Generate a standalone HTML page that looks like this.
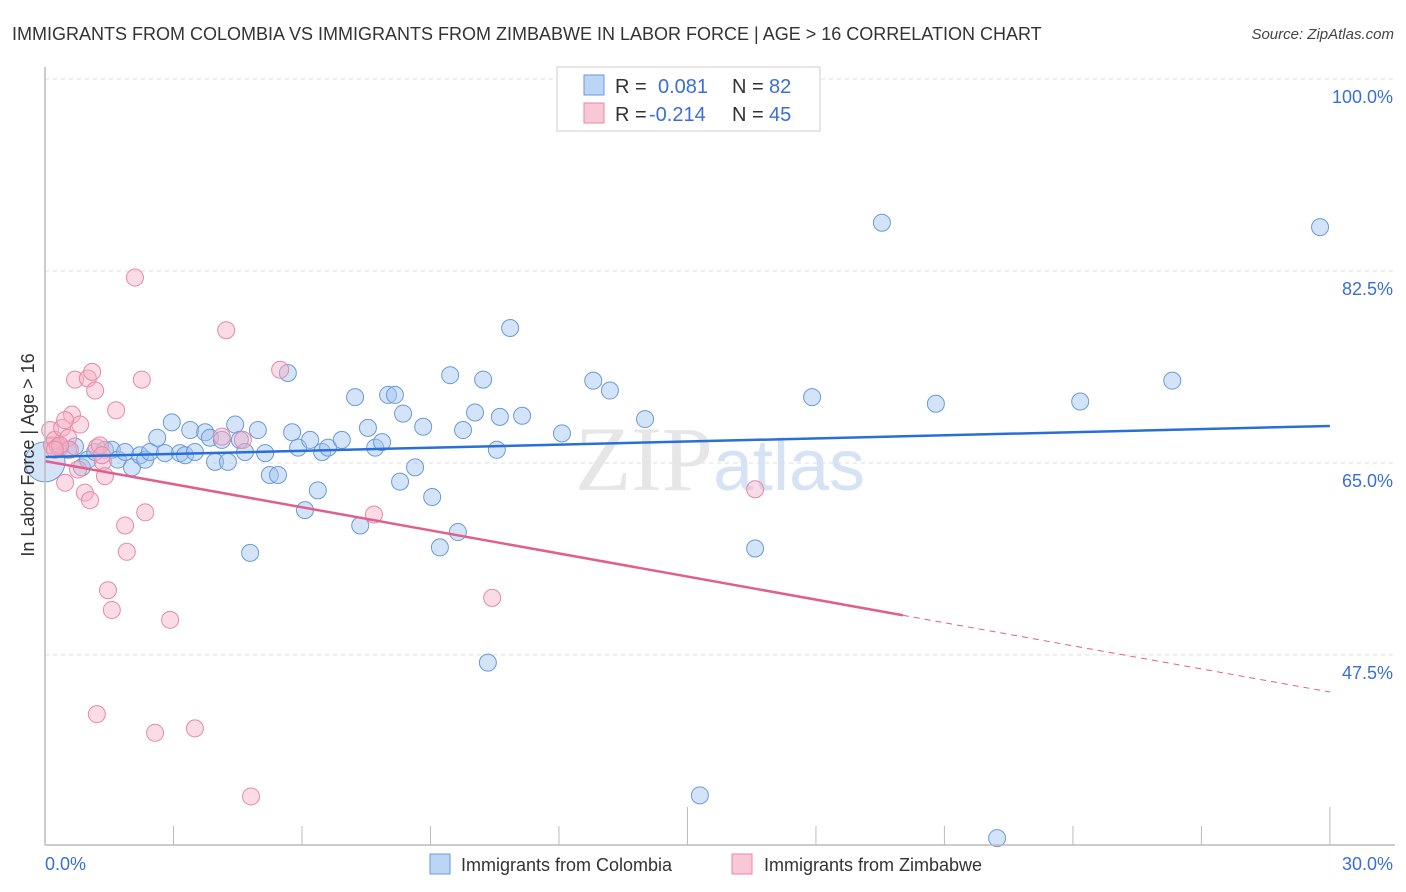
<!DOCTYPE html>
<html><head><meta charset="utf-8"><style>
body{margin:0;background:#fff;font-family:"Liberation Sans",sans-serif;}
svg{display:block}
</style></head><body>
<svg id="chart" width="1406" height="892" xmlns="http://www.w3.org/2000/svg" font-family="Liberation Sans, sans-serif">
<text x="12" y="40" font-size="18" fill="#333">IMMIGRANTS FROM COLOMBIA VS IMMIGRANTS FROM ZIMBABWE IN LABOR FORCE | AGE &gt; 16 CORRELATION CHART</text>
<text x="1394" y="39" font-size="15" fill="#444" font-style="italic" text-anchor="end">Source: ZipAtlas.com</text>
<g id="grid"></g>
<text x="720" y="490" font-size="92" text-anchor="middle" fill="#e6e6e6"><tspan font-family="Liberation Serif, serif">ZIP</tspan><tspan fill="#d6e3f5" font-size="72">atlas</tspan></text>
<g id="points"></g>
<g id="lines"></g>
<line x1="45" y1="67" x2="45" y2="845" stroke="#bbb" stroke-width="1.5"/>
<line x1="45" y1="845" x2="1395" y2="845" stroke="#bbb" stroke-width="1.5"/>
<g id="xticks"></g>
<text transform="translate(34,455) rotate(-90)" font-size="18" fill="#333" text-anchor="middle">In Labor Force | Age &gt; 16</text>
<text x="45" y="870" font-size="18" fill="#3a6fd8">0.0%</text>
<text x="1393" y="870" font-size="18" fill="#3a6fd8" text-anchor="end">30.0%</text>
<g>
<rect x="430" y="854" width="20" height="20" fill="#bcd5f5" stroke="#6a9ad8"/>
<text x="461" y="871" font-size="18" fill="#333">Immigrants from Colombia</text>
<rect x="732" y="854" width="20" height="20" fill="#f9c8d6" stroke="#e58aa6"/>
<text x="764" y="871" font-size="18" fill="#333">Immigrants from Zimbabwe</text>
</g>
<g>
<rect x="557" y="67" width="263" height="64" fill="#fff" stroke="#ccc"/>
<rect x="584" y="75" width="20" height="20" fill="#bcd5f5" stroke="#6a9ad8"/>
<rect x="584" y="103" width="20" height="20" fill="#f9c8d6" stroke="#e58aa6"/>
<text x="615" y="93" font-size="20" fill="#333">R =</text><text x="658" y="93" font-size="20" fill="#3a6fd8">0.081</text>
<text x="732" y="93" font-size="20" fill="#333">N =</text><text x="769" y="93" font-size="20" fill="#3a6fd8">82</text>
<text x="615" y="121" font-size="20" fill="#333">R =</text><text x="649" y="121" font-size="20" fill="#3a6fd8">-0.214</text>
<text x="732" y="121" font-size="20" fill="#333">N =</text><text x="769" y="121" font-size="20" fill="#3a6fd8">45</text>
</g>
</svg>
<script>
const colX=[0,0.35,0.54,0.70,0.86,1.00,1.17,1.40,1.56,1.70,1.87,2.03,2.22,2.34,2.45,2.62,2.80,2.96,3.15,3.27,3.39,3.50,3.74,3.85,3.97,4.13,4.27,4.44,4.55,4.67,4.79,4.97,5.14,5.25,5.44,5.67,5.77,5.91,6.07,6.19,6.37,6.47,6.61,6.93,7.24,7.36,7.54,7.71,7.87,8.01,8.17,8.29,8.36,8.64,8.83,9.04,9.22,9.46,9.64,9.76,10.04,10.23,10.34,10.55,10.62,10.86,11.14,12.07,12.80,13.19,14.01,15.29,16.58,17.91,19.54,20.80,22.23,24.17,26.32,29.77];
const colY=[65.1,66.4,66.2,66.5,64.6,65.3,66.0,66.2,66.2,65.3,66.0,64.6,65.7,65.3,66.0,67.3,65.9,68.7,65.9,65.7,68.0,66.0,67.8,67.3,65.1,67.1,65.1,68.5,67.1,66.0,56.8,68.0,65.9,63.9,63.9,73.2,67.8,66.4,60.7,67.1,62.5,66.0,66.4,67.1,71.0,59.3,68.2,66.4,66.9,71.2,71.2,63.3,69.5,64.6,68.3,61.9,57.3,73.0,58.7,68.0,69.6,72.6,46.8,66.2,69.2,77.3,69.3,67.7,72.5,71.6,69.0,34.7,57.2,71.0,86.9,70.4,30.8,70.6,72.5,86.5];
const zimX=[0.12,0.16,0.23,0.30,0.40,0.47,0.54,0.63,0.70,0.82,0.93,1.00,1.05,1.10,1.17,1.21,1.28,1.35,1.40,1.47,1.56,1.66,1.87,1.91,2.10,2.26,2.34,2.57,2.92,3.50,1.21,4.23,4.13,4.62,4.81,5.49,7.68,10.44,16.58,0.58,0.35,0.23,1.33,0.77,0.47];
const zimY=[68.0,66.6,67.1,66.5,68.2,63.2,67.3,69.4,72.6,68.5,62.3,72.7,61.6,73.3,71.6,66.4,66.6,65.1,63.8,53.4,51.6,69.8,59.3,56.9,81.9,72.6,60.5,40.4,50.7,40.8,42.1,77.1,67.4,67.1,34.6,73.5,60.3,52.7,62.6,66.2,66.6,66.2,65.7,64.4,68.9];
const yTicks=[100,82.5,65,47.5];
const yTickLabels=["100.0%","82.5%","65.0%","47.5%"];
const xTicks=[0,3,6,9,12,15,18,21,24,27,30];
const colTrend=[65.54,68.37];
const zimTrend=[65.17,44.12];
const zimSolidEnd=20.03;
const NS='http://www.w3.org/2000/svg';
const sx=v=>45+v*42.83;
const sy=v=>79+(100-v)*10.97;
function mk(tag,attrs,parent){const e=document.createElementNS(NS,tag);for(const k in attrs)e.setAttribute(k,attrs[k]);parent.appendChild(e);return e;}
const grid=document.getElementById('grid');
yTicks.forEach((t,i)=>{
  const l=mk('line',{x1:45,x2:1395,y1:sy(t),y2:sy(t),stroke:'#ddd','stroke-dasharray':'4,4'},grid);
  
  
  const tx=mk('text',{x:1393,y:sy(t)+24,'font-size':18,fill:'#3a6fd8','text-anchor':'end'},grid);
  tx.textContent=yTickLabels[i];
  
  
});
const xt=document.getElementById('xticks');
xTicks.forEach((t,i)=>{
  const long=(i===5||i===10);
  const l=mk('line',{x1:sx(t),x2:sx(t),y1:long?807:826,y2:845,stroke:'#bbb'},xt);
  
  
});
const pts=document.getElementById('points');
colX.forEach((x,i)=>{
  const c=mk('circle',{cx:sx(x),cy:sy(colY[i]),r:i===0?20:8.5,fill:'rgba(160,196,240,0.45)',stroke:'#6a9ad8','stroke-width':1},pts);
  
  
});
zimX.forEach((x,i)=>{
  const c=mk('circle',{cx:sx(x),cy:sy(zimY[i]),r:8.5,fill:'rgba(246,176,198,0.45)',stroke:'#e58aa6','stroke-width':1},pts);
  
  
});
const ln=document.getElementById('lines');
const b=mk('line',{x1:sx(0),y1:sy(colTrend[0]),x2:sx(30),y2:sy(colTrend[1]),stroke:'#2a6fd6','stroke-width':2.5},ln);


const zAt=x=>zimTrend[0]+(zimTrend[1]-zimTrend[0])*x/30;
const p=mk('line',{x1:sx(0),y1:sy(zimTrend[0]),x2:sx(zimSolidEnd),y2:sy(zAt(zimSolidEnd)),stroke:'#e0608c','stroke-width':2.5},ln);


const pd=mk('line',{x1:sx(zimSolidEnd),y1:sy(zAt(zimSolidEnd)),x2:sx(30),y2:sy(zimTrend[1]),stroke:'#e0608c','stroke-width':1,'stroke-dasharray':'6,5'},ln);


</script>
</body></html>
